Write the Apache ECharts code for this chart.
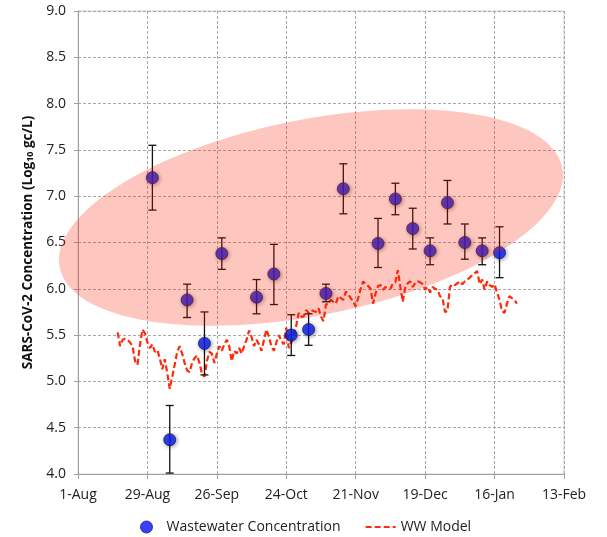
<!DOCTYPE html>
<html>
<head>
<meta charset="utf-8">
<script src="https://cdn.jsdelivr.net/npm/echarts@6/dist/echarts.min.js"></script>
<style>html,body{margin:0;padding:0;background:#fff;}#c{width:607px;height:537px;}</style>
</head>
<body>
<div id="c"></div>
<script>
// ---- data ----
const originDate = '2020-08-01';
const xTickLabels = ['1-Aug','29-Aug','26-Sep','24-Oct','21-Nov','19-Dec','16-Jan','13-Feb'];
const yTicks = [4.0,4.5,5.0,5.5,6.0,6.5,7.0,7.5,8.0,8.5,9.0];
const sampleDates = ['2020-08-31','2020-09-07','2020-09-14','2020-09-21','2020-09-28','2020-10-12','2020-10-19','2020-10-26','2020-11-02','2020-11-09','2020-11-16','2020-11-30','2020-12-07','2020-12-14','2020-12-21','2020-12-28','2021-01-04','2021-01-11','2021-01-18'];
const wwConc = [7.20,4.37,5.88,5.41,6.38,5.91,6.16,5.50,5.56,5.95,7.08,6.49,6.97,6.65,6.41,6.93,6.50,6.41,6.39];
const wwLow  = [6.85,4.01,5.69,5.07,6.21,5.73,5.83,5.28,5.39,5.86,6.81,6.23,6.80,6.43,6.26,6.70,6.32,6.26,6.12];
const wwHigh = [7.55,4.74,6.05,5.75,6.55,6.10,6.48,5.72,5.73,6.05,7.35,6.76,7.14,6.87,6.55,7.17,6.70,6.55,6.67];
const modelStart = '2020-08-17';
const modelValues = [
5.53,5.38,5.45,5.46,5.45,5.42,5.38,5.22,5.18,5.40,5.56,5.52,5.42,5.36,5.40,5.32,5.34,5.25,5.13,5.24,
5.09,4.92,5.05,5.18,5.32,5.38,5.30,5.20,5.12,5.10,5.20,5.25,5.28,5.20,5.08,5.05,5.22,5.32,5.30,5.20,
5.30,5.38,5.33,5.40,5.45,5.38,5.22,5.33,5.30,5.36,5.30,5.38,5.45,5.55,5.48,5.38,5.45,5.40,5.33,5.45,
5.56,5.48,5.38,5.33,5.42,5.50,5.44,5.40,5.58,5.36,5.42,5.50,5.60,5.74,5.70,5.70,5.77,5.74,5.77,5.76,
5.75,5.79,5.70,5.65,5.83,5.84,5.88,5.86,5.84,5.92,5.90,5.88,5.97,5.94,5.90,5.86,5.81,5.90,6.00,6.08,
6.05,6.03,6.00,5.84,5.95,6.03,6.04,5.99,6.02,6.01,6.00,6.06,6.07,6.20,6.02,5.86,6.02,6.06,6.08,6.02,
6.06,6.08,6.07,6.05,5.99,6.02,5.96,6.02,6.00,5.99,5.92,5.90,5.75,5.76,6.02,6.05,6.04,6.06,6.08,6.05,
6.08,6.10,6.12,6.15,6.17,6.19,6.05,6.10,5.99,6.08,6.04,6.02,6.05,5.96,5.88,5.76,5.74,5.84,5.92,5.90,
5.88,5.84];
// highlighted region (ellipse) in data units
const ellipseCenter = ['2020-11-03', 6.77];
const ellipseRadiusDays = 103.3;   // semi-major, expressed along x scale
const ellipseRadiusVal = 1.057;    // semi-minor, expressed along y scale
const ellipseTiltDeg = 11.25;

// ---- helpers ----
const DAY = 86400000;
function dayOf(s){ const [y,m,d] = s.split('-').map(Number); const [y0,m0,d0] = originDate.split('-').map(Number); return Math.round((Date.UTC(y,m-1,d)-Date.UTC(y0,m0-1,d0))/DAY); }
const sampleX = sampleDates.map(dayOf);
const scatterData = sampleX.map((x,i)=>[x, wwConc[i]]);
const errData = sampleX.map((x,i)=>[x, wwLow[i], wwHigh[i]]);
const m0 = dayOf(modelStart);
const modelData = modelValues.map((v,i)=>[m0+i, v]);
const FONT = 'Open Sans';

const chart = echarts.init(document.getElementById('c'), null, {renderer:'canvas'});
chart.setOption({
  animation:false,
  textStyle:{fontFamily:FONT},
  grid:{left:78, right:43, top:11, bottom:63, show:true, borderColor:'#d0d0d0', borderWidth:1},
  legend:{
    left:135, top:515, itemGap:24, itemWidth:30, itemHeight:12,
    textStyle:{fontSize:14, color:'#222', fontFamily:FONT},
    data:[{name:'Wastewater Concentration', icon:'circle', itemStyle:{color:'#0a10ff', borderColor:'#1a1a60', borderWidth:1}},
          {name:'WW Model', itemStyle:{opacity:0}, lineStyle:{color:'#ff2a0a', width:2.2, type:[6,3]}}]
  },
  xAxis:{
    type:'value', min:0, max:196, interval:28,
    axisLine:{show:true, lineStyle:{color:'#a0a0a0', width:1}},
    axisTick:{show:true, length:5, lineStyle:{color:'#a0a0a0'}},
    axisLabel:{margin:14, fontSize:14, color:'#222', formatter:(v)=>xTickLabels[Math.round(v/28)] || ''},
    splitLine:{show:true, lineStyle:{color:'#a8a8a8', type:[3,2], width:1}}
  },
  yAxis:{
    type:'value', min:yTicks[0], max:yTicks[yTicks.length-1], interval:0.5,
    axisLine:{show:true, lineStyle:{color:'#a0a0a0', width:1}},
    axisTick:{show:true, length:4, lineStyle:{color:'#a0a0a0'}},
    axisLabel:{margin:12, fontSize:14, color:'#222', formatter:(v)=>v.toFixed(1)},
    splitLine:{show:true, lineStyle:{color:'#a8a8a8', type:[3,2], width:1}},
    name:'{b|SARS-CoV-2 Concentration (Log}{s|10}{b| gc/L)}',
    nameLocation:'middle', nameRotate:90, nameGap:40,
    nameTextStyle:{rich:{
      b:{fontSize:13.5, fontWeight:'bold', color:'#111', fontFamily:FONT},
      s:{fontSize:9, fontWeight:'bold', color:'#111', fontFamily:FONT, verticalAlign:'bottom', padding:[6,0,0,0]}
    }}
  },
  series:[
    {
      name:'WW Model', type:'line', data:modelData, showSymbol:false, symbol:'none', z:2,
      lineStyle:{color:'#ff2a0a', width:2.2, type:[6,3]}, itemStyle:{color:'#ff2a0a'}
    },
    {
      name:'errbars', type:'custom', z:3, data:errData,
      renderItem:function(params, api){
        const x = api.value(0);
        const lo = api.coord([x, api.value(1)]);
        const hi = api.coord([x, api.value(2)]);
        const hw = 4;
        const st = {stroke:'#111', lineWidth:1.3};
        return {type:'group', children:[
          {type:'line', shape:{x1:lo[0], y1:lo[1], x2:hi[0], y2:hi[1]}, style:st},
          {type:'line', shape:{x1:lo[0]-hw, y1:lo[1], x2:lo[0]+hw, y2:lo[1]}, style:st},
          {type:'line', shape:{x1:hi[0]-hw, y1:hi[1], x2:hi[0]+hw, y2:hi[1]}, style:st}
        ]};
      }
    },
    {
      name:'Wastewater Concentration', type:'scatter', data:scatterData, z:4,
      symbol:'circle', symbolSize:12,
      itemStyle:{color:'#0a1ef5', borderColor:'#1a1a60', borderWidth:1, shadowBlur:4, shadowColor:'rgba(0,0,0,0.45)', shadowOffsetX:1, shadowOffsetY:1}
    },
    {
      name:'region', type:'custom', z:5, clip:false, silent:true,
      data:[[dayOf(ellipseCenter[0]), ellipseCenter[1]]],
      renderItem:function(params, api){
        const c = api.coord([api.value(0), api.value(1)]);
        const sz = api.size([ellipseRadiusDays, ellipseRadiusVal]);
        return {type:'ellipse', x:c[0], y:c[1], rotation:ellipseTiltDeg*Math.PI/180,
          shape:{cx:0, cy:0, rx:sz[0], ry:sz[1]},
          style:{fill:'rgba(248,28,0,0.25)'}};
      }
    }
  ]
});
</script>
</body>
</html>
